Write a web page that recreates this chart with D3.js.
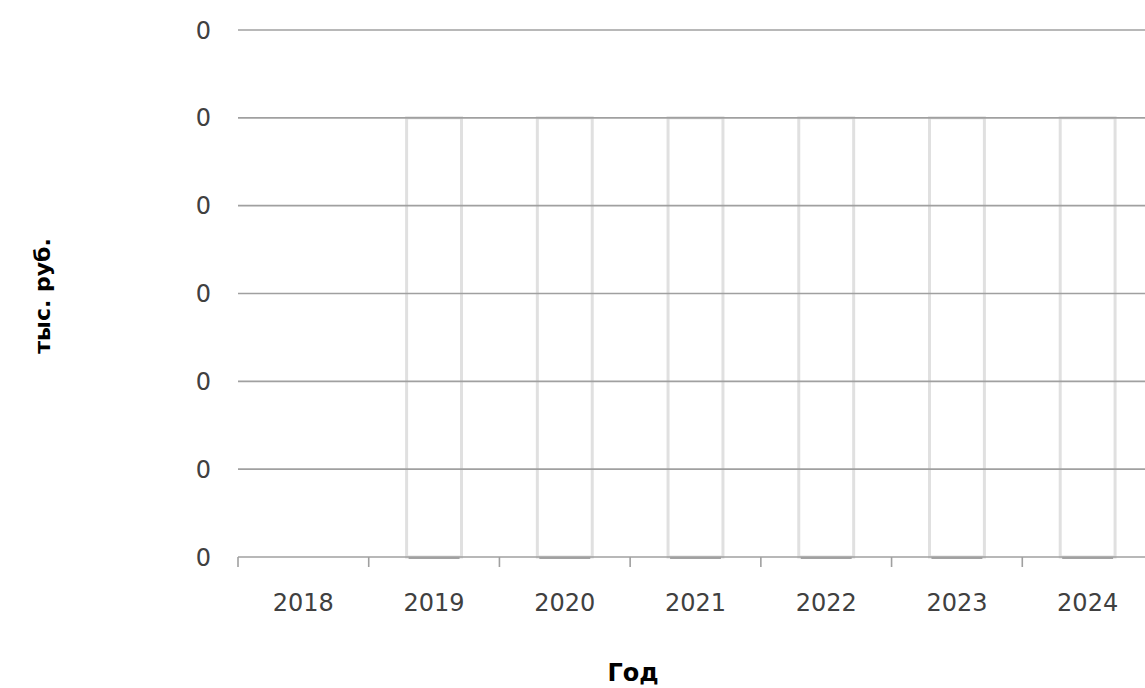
<!DOCTYPE html>
<html>
<head>
<meta charset="utf-8">
<script src="https://cdn.jsdelivr.net/npm/d3@7"></script>
<style>
  html, body { margin: 0; padding: 0; background: #fff; }
  svg { display: block; }
</style>
</head>
<body>
<svg id="chart" width="1145" height="688"></svg>
<script>
const categories = ["2018", "2019", "2020", "2021", "2022", "2023", "2024"];
const values = [0, 0.0005, 0.0005, 0.0005, 0.0005, 0.0005, 0.0005];
const yTicks = [0, 0.0001, 0.0002, 0.0003, 0.0004, 0.0005, 0.0006];
const xTitle = "Год";
const yTitle = "тыс. руб.";

(function () {
const svg = d3.select("#chart");
const mLeft = 238, mRight = 1153, mTop = 30, mBottom = 557;
const font = "'DejaVu Sans', sans-serif";

const x = d3.scaleBand().domain(categories).range([mLeft, mRight]).paddingInner(0).paddingOuter(0);
const y = d3.scaleLinear().domain([0, 0.0006]).range([mBottom, mTop]);
const fmt = d3.format(".0f");

// bars
const bw = x.bandwidth() * 0.42;
const bars = svg.append("g").selectAll("g").data(categories.map((c, i) => ({c, v: values[i]})).filter(d => d.v > 0)).join("g");
bars.append("rect")
  .attr("x", d => x(d.c) + (x.bandwidth() - bw) / 2)
  .attr("y", d => y(d.v))
  .attr("width", bw)
  .attr("height", d => mBottom - y(d.v))
  .attr("fill", "#fff")
  .attr("stroke", "#e0e0e0").attr("stroke-width", 3);
bars.append("line")
  .attr("x1", d => x(d.c) + (x.bandwidth() - bw) / 2 + 2)
  .attr("x2", d => x(d.c) + (x.bandwidth() + bw) / 2 - 2)
  .attr("y1", mBottom + 1).attr("y2", mBottom + 1)
  .attr("stroke", "#8a8a8a").attr("stroke-width", 1.5);

// gridlines
svg.append("g").selectAll("line").data(yTicks.slice(1)).join("line")
  .attr("x1", mLeft).attr("x2", 1145)
  .attr("y1", d => y(d)).attr("y2", d => y(d))
  .attr("stroke", "#a0a0a0").attr("stroke-width", 1.6);

// x axis
const gx = svg.append("g").attr("transform", `translate(0,${mBottom})`);
gx.append("line").attr("x1", mLeft).attr("x2", 1145).attr("y1", 0).attr("y2", 0)
  .attr("stroke", "#a0a0a0").attr("stroke-width", 1.6);
const boundaries = categories.map(c => x(c)).concat([x(categories[categories.length - 1]) + x.bandwidth()]);
gx.selectAll("line.tick").data(boundaries).join("line").attr("class", "tick")
  .attr("x1", d => d).attr("x2", d => d).attr("y1", 0).attr("y2", 10)
  .attr("stroke", "#a0a0a0").attr("stroke-width", 1.6);
gx.selectAll("text").data(categories).join("text")
  .attr("x", d => x(d) + x.bandwidth() / 2)
  .attr("y", 54)
  .attr("text-anchor", "middle")
  .attr("font-family", font).attr("font-size", 24).attr("fill", "#404040")
  .text(d => d);

// y labels
svg.append("g").selectAll("text").data(yTicks).join("text")
  .attr("x", 211).attr("y", d => y(d))
  .attr("dy", "0.36em")
  .attr("text-anchor", "end")
  .attr("font-family", font).attr("font-size", 24).attr("fill", "#404040")
  .text(d => fmt(d));

// titles
svg.append("text").attr("x", 633).attr("y", 681)
  .attr("text-anchor", "middle")
  .attr("font-family", font).attr("font-weight", "bold").attr("font-size", 24).attr("fill", "#000")
  .text(xTitle);
svg.append("text")
  .attr("transform", `translate(50,296) rotate(-90)`)
  .attr("text-anchor", "middle")
  .attr("font-family", font).attr("font-weight", "bold").attr("font-size", 22).attr("fill", "#000")
  .text(yTitle);
})();
</script>
</body>
</html>
